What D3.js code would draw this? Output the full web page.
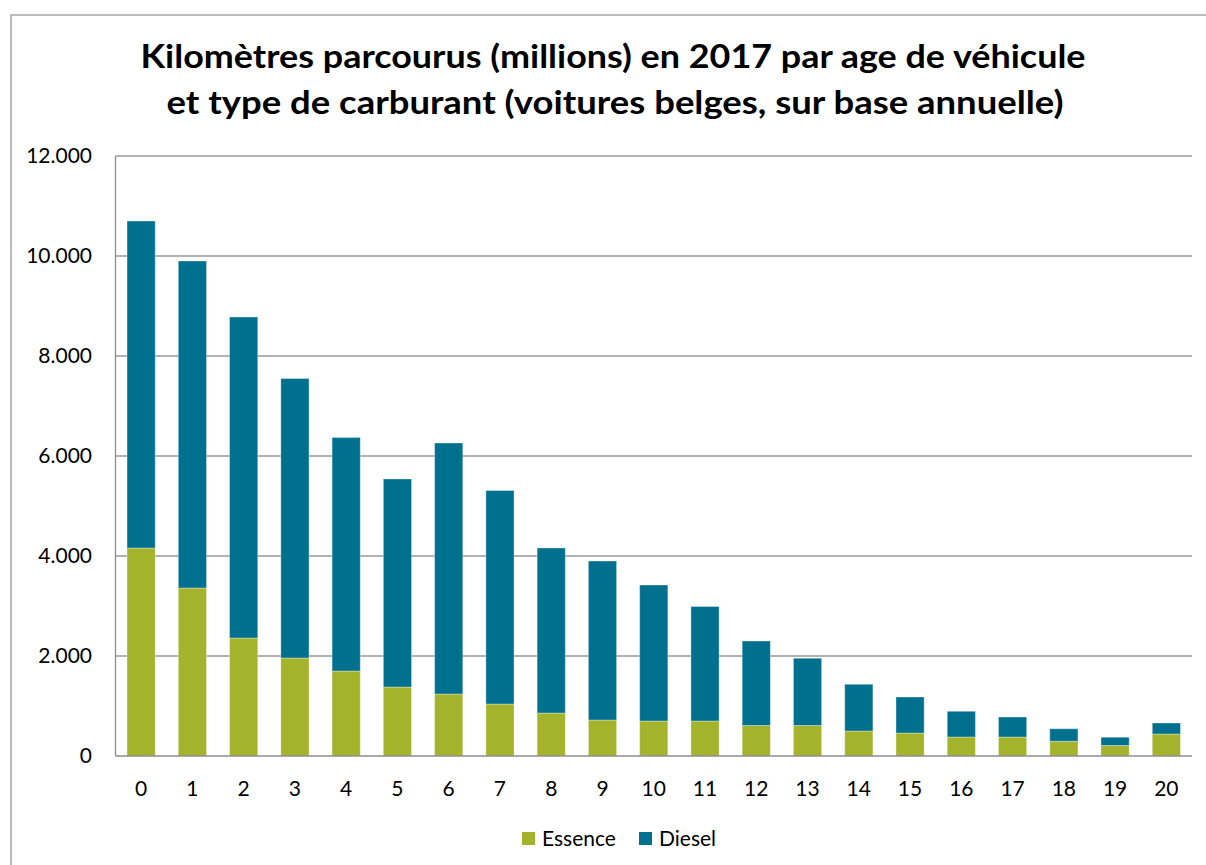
<!DOCTYPE html>
<html>
<head>
<meta charset="utf-8">
<script src="https://cdn.jsdelivr.net/npm/d3@7"></script>
<style>
  body { margin: 0; background: #fff; }
  svg text { font-family: Lato, "Open Sans", sans-serif; fill: #000; }
</style>
</head>
<body>
<svg id="chart" width="1206" height="865"></svg>
<script>
'use strict'

// data (millions km)
const ages = d3.range(0, 21).map(String)
const essence = [4160, 3360, 2360, 1960, 1700, 1380, 1240, 1040, 860, 720, 700, 700, 610, 610, 500, 460, 380, 380, 295, 210, 440]
const totals = [10700, 9900, 8780, 7550, 6370, 5540, 6260, 5310, 4160, 3900, 3420, 2990, 2300, 1955, 1435, 1180, 895, 780, 545, 375, 660]
const diesel = totals.map((t, i) => t - essence[i])
const yTicks = [0, 2000, 4000, 6000, 8000, 10000, 12000]
const seriesNames = ['Essence', 'Diesel']
const colors = ['#a3b32b', '#00708f']

function draw(){
	const svg = d3.select('#chart')

	// chart frame
	svg.append('rect')
		.attr('x', 11).attr('y', 15)
		.attr('width', 1300).attr('height', 1000)
		.attr('fill', 'none')
		.attr('stroke', '#a6a6a6')
		.attr('stroke-width', 1.5)

	// title
	const title = svg.append('text')
		.attr('text-anchor', 'middle')
		.style('font-weight', 'bold')
		.style('font-size', '33px')
	title.append('tspan').attr('x', 613).attr('y', 68)
		.attr('textLength', 945).attr('lengthAdjust', 'spacingAndGlyphs')
		.text('Kilomètres parcourus (millions) en 2017 par age de véhicule')
	title.append('tspan').attr('x', 615).attr('y', 114)
		.attr('textLength', 897).attr('lengthAdjust', 'spacingAndGlyphs')
		.text('et type de carburant (voitures belges, sur base annuelle)')

	const left = 115.5, right = 1192, top = 156, bottom = 756

	let x = d3.scaleBand().domain(ages).range([left, right]).paddingInner(0.45).paddingOuter(0.225)
	let y = d3.scaleLinear().domain([0, 12000]).range([bottom, top])

	// grid lines
	svg.append('g')
		.selectAll('line')
		.data(yTicks.filter(d => d > 0))
		.join('line')
		.attr('x1', left).attr('x2', right)
		.attr('y1', d => y(d)).attr('y2', d => y(d))
		.attr('stroke', '#999')
		.attr('stroke-width', 1.3)

	// left axis line
	svg.append('line')
		.attr('x1', left).attr('x2', left)
		.attr('y1', top).attr('y2', bottom)
		.attr('stroke', '#8c8c8c').attr('stroke-width', 1.3)

	// stacked bars
	const stack = d3.stack().keys([0, 1]).value((d, k) => d[k])
	const rows = ages.map((a, i) => [essence[i], diesel[i]])
	const layers = stack(rows)

	svg.append('g')
		.selectAll('g')
		.data(layers)
		.join('g')
		.attr('fill', (d, i) => colors[i])
		.selectAll('rect')
		.data(d => d)
		.join('rect')
		.attr('x', (d, i) => x(ages[i]))
		.attr('width', x.bandwidth())
		.attr('y', d => y(d[1]))
		.attr('height', d => y(d[0]) - y(d[1]))
		.attr('stroke', 'rgba(255,255,255,0.35)')
		.attr('stroke-width', 1)

	// baseline
	svg.append('line')
		.attr('x1', left).attr('x2', right)
		.attr('y1', bottom).attr('y2', bottom)
		.attr('stroke', '#8c8c8c').attr('stroke-width', 1.5)

	// y labels
	const fmt = d => d3.format(',')(d).replace(/,/g, '.')
	svg.append('g')
		.selectAll('text')
		.data(yTicks)
		.join('text')
		.attr('x', 92)
		.attr('y', d => y(d) + 7)
		.attr('text-anchor', 'end')
		.style('font-size', '21px')
		.text(fmt)

	// x labels
	svg.append('g')
		.selectAll('text')
		.data(ages)
		.join('text')
		.attr('x', d => x(d) + x.bandwidth() / 2)
		.attr('y', 796)
		.attr('text-anchor', 'middle')
		.style('font-size', '21px')
		.text(d => d)

	// legend
	const legX = [522, 639]
	const leg = svg.append('g')
		.selectAll('g')
		.data(seriesNames)
		.join('g')
		.attr('transform', (d, i) => `translate(${legX[i]},832)`)
	leg.append('rect')
		.attr('width', 13).attr('height', 13)
		.attr('fill', (d, i) => colors[i])
	leg.append('text')
		.attr('x', 20).attr('y', 14)
		.style('font-size', '21px')
		.text(d => d)
}

draw()
</script>
</body>
</html>
